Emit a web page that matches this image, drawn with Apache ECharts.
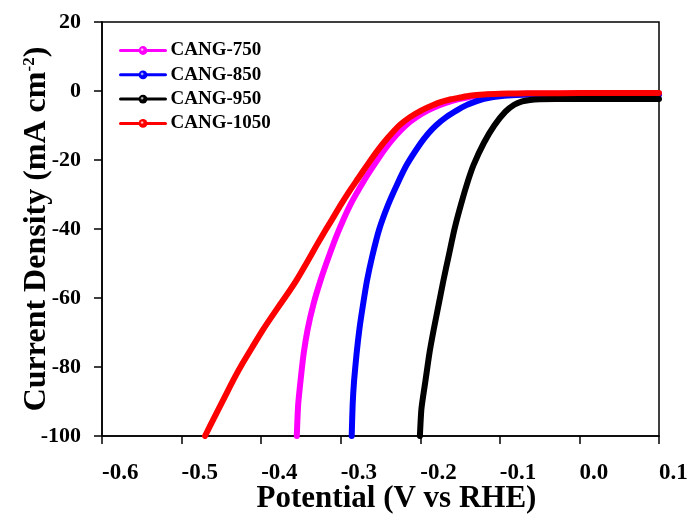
<!DOCTYPE html>
<html><head><meta charset="utf-8">
<script src="https://cdn.jsdelivr.net/npm/echarts@6/dist/echarts.min.js"></script>
<style>html,body{margin:0;padding:0;background:#fff}#c{width:691px;height:519px}</style>
</head><body><div id="c"></div>
<script>
// Data: [potential (V vs RHE), current density (mA cm^-2)]
const cang750 = [[-0.3552,-100],[-0.3535,-91],[-0.3505,-84],[-0.3465,-76],[-0.3415,-69],[-0.3345,-62],[-0.3255,-55],[-0.315,-48],[-0.3035,-41],[-0.288,-33],[-0.2695,-25.5],[-0.258,-21.4],[-0.245,-17],[-0.231,-13],[-0.218,-9.9],[-0.205,-7.6],[-0.191,-5.7],[-0.176,-4.1],[-0.162,-3.0],[-0.15,-2.3],[-0.14,-1.8],[-0.129,-1.4],[-0.115,-1.1],[-0.1,-0.95],[-0.08,-0.85],[-0.05,-0.8],[0.0,-0.8],[0.05,-0.8],[0.1,-0.8]];
const cang850 = [[-0.2862,-100],[-0.285,-91],[-0.2832,-84],[-0.28,-76],[-0.2765,-69],[-0.272,-62],[-0.267,-55],[-0.2605,-48],[-0.2515,-40],[-0.2405,-33],[-0.229,-27],[-0.217,-21.4],[-0.2,-15.3],[-0.19,-12.3],[-0.18,-9.9],[-0.167,-7.5],[-0.154,-5.6],[-0.142,-4.1],[-0.13,-3.0],[-0.12,-2.3],[-0.11,-1.8],[-0.1,-1.5],[-0.09,-1.3],[-0.07,-1.1],[-0.04,-1.0],[0.0,-1.0],[0.05,-1.0],[0.1,-1.0]];
const cang950 = [[-0.2005,-100],[-0.1985,-92],[-0.1935,-84],[-0.1885,-76],[-0.183,-69],[-0.177,-62],[-0.171,-55],[-0.1645,-48],[-0.157,-40],[-0.149,-33],[-0.14,-26],[-0.133,-21.4],[-0.12,-15],[-0.107,-10],[-0.093,-6],[-0.082,-4],[-0.072,-3],[-0.062,-2.6],[-0.05,-2.4],[-0.03,-2.3],[0.0,-2.3],[0.05,-2.3],[0.1,-2.3]];
const cang1050 = [[-0.4705,-100],[-0.4575,-94],[-0.446,-88.8],[-0.435,-83.8],[-0.4235,-79],[-0.411,-74.2],[-0.398,-69.3],[-0.3835,-64.3],[-0.369,-59.5],[-0.3555,-54.8],[-0.3425,-49.7],[-0.33,-44.6],[-0.319,-40.3],[-0.3095,-36.7],[-0.3,-33],[-0.289,-29],[-0.278,-25.3],[-0.2665,-21.4],[-0.2535,-17.2],[-0.2405,-13.5],[-0.226,-9.9],[-0.2125,-7.5],[-0.1985,-5.6],[-0.1845,-4.1],[-0.1725,-3.1],[-0.1615,-2.4],[-0.15,-1.9],[-0.138,-1.4],[-0.12,-1.0],[-0.1,-0.8],[-0.08,-0.7],[-0.05,-0.65],[0.0,-0.6],[0.05,-0.6],[0.1,-0.6]];
const seriesNames = ['CANG-750','CANG-850','CANG-950','CANG-1050'];
const seriesColors = ['#FF00FF','#0000FF','#000000','#FF0000'];
const seriesData = [cang750, cang850, cang950, cang1050];
const xTicks = {min:-0.6, max:0.1, interval:0.1};
const yTicks = {min:-100, max:20, interval:20};

const FONT = '"Liberation Serif","Times New Roman",serif';
const chart = echarts.init(document.getElementById('c'));
function ball(c){
  return {type:'radial', x:0.4, y:0.4, r:0.6, colorStops:[{offset:0,color:'#ffffff'},{offset:0.35,color:c},{offset:1,color:c}]};
}
chart.setOption({
  backgroundColor:'#fff',
  animation:false,
  grid:{left:102, right:32, top:22, bottom:83, containLabel:false, outerBoundsMode:'none', show:true, borderColor:'#000', borderWidth:1.5},
  legend:{
    orient:'vertical', left:119, top:41, padding:0, itemWidth:45, itemHeight:11, itemGap:5.3,
    data:seriesNames,
    textStyle:{fontFamily:FONT, fontWeight:'bold', fontSize:19, color:'#000'},
    lineStyle:{width:3}
  },
  xAxis:{
    type:'value', min:xTicks.min, max:xTicks.max, interval:xTicks.interval,
    splitLine:{show:false},
    axisLine:{onZero:false, lineStyle:{color:'#000', width:1.5}},
    axisTick:{inside:false, length:8, lineStyle:{width:1.5}},
    axisLabel:{margin:26, align:'left', hideOverlap:false, color:'#000', fontFamily:FONT, fontWeight:'bold', fontSize:23, formatter:v=>v.toFixed(1)},
    name:'Potential (V vs RHE)', nameLocation:'middle', nameGap:47, nameMoveOverlap:false,
    nameTextStyle:{fontFamily:FONT, fontWeight:'bold', fontSize:31, color:'#000', padding:[0,0,0,32]}
  },
  yAxis:{
    type:'value', min:yTicks.min, max:yTicks.max, interval:yTicks.interval,
    splitLine:{show:false},
    axisLine:{onZero:false, lineStyle:{color:'#000', width:1.5}},
    axisTick:{inside:false, length:8, lineStyle:{width:1.5}},
    axisLabel:{margin:21, color:'#000', fontFamily:FONT, fontWeight:'bold', fontSize:22},
    name:'{a|Current Density (mA cm}{s|-2}{a|)}', nameLocation:'middle', nameGap:49, nameMoveOverlap:false,
    nameTextStyle:{rich:{
      a:{fontFamily:FONT, fontWeight:'bold', fontSize:32, color:'#000'},
      s:{fontFamily:FONT, fontWeight:'bold', fontSize:17, color:'#000', verticalAlign:'top', padding:[0,0,15,0]}
    }}
  },
  series:seriesData.map((d,i)=>({
    name:seriesNames[i], type:'line', data:d, smooth:0.2,
    showSymbol:false, symbol:'circle', symbolSize:8, clip:true,
    lineStyle:{color:seriesColors[i], width:6, join:'round', cap:'round'},
    itemStyle:{color:ball(seriesColors[i])}
  }))
});
</script></body></html>
